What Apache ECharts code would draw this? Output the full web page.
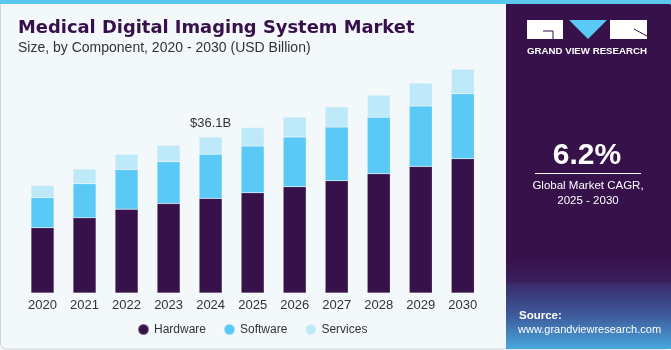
<!DOCTYPE html>
<html>
<head>
<meta charset="utf-8">
<script src="https://cdn.jsdelivr.net/npm/echarts@6/dist/echarts.min.js"></script>
<style>
html,body{margin:0;padding:0;background:#f3f8fb;}
#chart{width:671px;height:350px;}
</style>
</head>
<body>
<div id="chart"></div>
<script>
const years = ['2020','2021','2022','2023','2024','2025','2026','2027','2028','2029','2030'];
const hardware = [15.1, 17.4, 19.4, 20.7, 21.9, 23.2, 24.6, 26.0, 27.6, 29.3, 31.1];
const software = [7.0, 7.9, 9.2, 9.7, 10.2, 10.8, 11.5, 12.4, 13.1, 14.0, 15.0];
const services = [2.8, 3.4, 3.5, 3.8, 4.0, 4.3, 4.6, 4.7, 5.1, 5.3, 5.7];
const highlightIndex = 4;
const highlightLabel = '$36.1B';

const chart = echarts.init(document.getElementById('chart'));
const font = 'Liberation Sans, Arial, sans-serif';

function mkSeries(name, data, color, isTop) {
  return {
    name: name, type: 'bar', stack: 'total', data: data.map((v, i) => {
      if (isTop && i === highlightIndex) {
        return {value: v, label: {show: true, position: 'top', formatter: highlightLabel,
          color: '#333', fontSize: 13, fontFamily: font, distance: 7}};
      }
      return v;
    }),
    barWidth: 23,
    itemStyle: {color: color, borderColor: 'rgba(255,255,255,0.35)', borderWidth: 0.5},
    emphasis: {disabled: true}
  };
}

chart.setOption({
  animation: false,
  backgroundColor: '#f3f8fb',
  textStyle: {fontFamily: font},
  grid: {left: 21.5, right: 187.2, top: 33.8, bottom: 57, containLabel: false},
  xAxis: {
    type: 'category', data: years,
    axisLine: {show: false}, axisTick: {show: false},
    axisLabel: {color: '#333', fontSize: 13, margin: 6, fontFamily: font}
  },
  yAxis: {type: 'value', min: 0, max: 60, show: false, splitLine: {show: false}},
  legend: {
    data: ['Hardware', 'Software', 'Services'],
    left: 132, top: 318, icon: 'circle', itemWidth: 11, itemHeight: 11, itemGap: 17,
    textStyle: {color: '#333', fontSize: 12, fontFamily: font}
  },
  series: [
    mkSeries('Hardware', hardware, '#371149', false),
    mkSeries('Software', software, '#5bc9f5', false),
    mkSeries('Services', services, '#bde9f9', true)
  ],
  graphic: [
    {type: 'rect', shape: {x: 0, y: 0, width: 671, height: 4}, style: {fill: '#5bc8f0'}, z: 10},
    {type: 'rect', shape: {x: 0.5, y: 0.5, width: 669, height: 348.5, r: 6}, style: {fill: 'none', stroke: '#cfd4d8', lineWidth: 1}, z: 0},
    {type: 'text', left: 18, top: 19, style: {text: 'Medical Digital Imaging System Market', fill: '#37104a', font: 'bold 17.9px DejaVu Sans, sans-serif'}, z: 10},
    {type: 'text', left: 18, top: 41, style: {text: 'Size, by Component, 2020 - 2030 (USD Billion)', fill: '#333', font: '14px ' + font}, z: 10},
    // right panel
    {type: 'rect', shape: {x: 506, y: 0, width: 165, height: 349, r: [0, 6, 6, 0]}, style: {fill: '#37114a'}, z: 5},
    {type: 'rect', shape: {x: 506, y: 283, width: 165, height: 66},
      style: {fill: new echarts.graphic.LinearGradient(0, 0, 0, 1, [
        {offset: 0, color: '#3b2a6a'}, {offset: 0.5, color: '#3d5c9c'}, {offset: 1, color: '#4aa8de'}])}, z: 6},
    {type: 'rect', shape: {x: 506, y: 255, width: 165, height: 28},
      style: {fill: new echarts.graphic.LinearGradient(0, 0, 0, 1, [
        {offset: 0, color: '#37114a'}, {offset: 1, color: '#3a2060'}])}, z: 6},
    // logo
    {type: 'rect', shape: {x: 527, y: 20, width: 36, height: 19}, style: {fill: '#ffffff'}, z: 10},
    {type: 'polyline', shape: {points: [[543, 31], [553, 31], [553, 39]]}, style: {stroke: '#37114a', lineWidth: 1, fill: 'none'}, z: 11},
    {type: 'polygon', shape: {points: [[569, 20], [607, 20], [588, 39]]}, style: {fill: '#5bc9f5'}, z: 10},
    {type: 'rect', shape: {x: 610, y: 20, width: 37, height: 19}, style: {fill: '#ffffff'}, z: 10},
    {type: 'line', shape: {x1: 634, y1: 29, x2: 647, y2: 36}, style: {stroke: '#37114a', lineWidth: 1}, z: 11},
    {type: 'text', x: 587, y: 51, style: {text: 'GRAND VIEW RESEARCH', fill: '#ffffff', font: 'bold 9.7px ' + font, align: 'center', verticalAlign: 'middle'}, z: 10},
    {type: 'text', x: 587, y: 156, style: {text: '6.2%', fill: '#ffffff', font: 'bold 30px ' + font, align: 'center', verticalAlign: 'middle'}, z: 10},
    {type: 'line', shape: {x1: 535, y1: 173.5, x2: 641, y2: 173.5}, style: {stroke: '#ffffff', lineWidth: 1}, z: 10},
    {type: 'text', x: 588, y: 186, style: {text: 'Global Market CAGR,', fill: '#ffffff', font: '11.5px ' + font, align: 'center', verticalAlign: 'middle'}, z: 10},
    {type: 'text', x: 588, y: 201, style: {text: '2025 - 2030', fill: '#ffffff', font: '11.5px ' + font, align: 'center', verticalAlign: 'middle'}, z: 10},
    {type: 'text', x: 519, y: 316, style: {text: 'Source:', fill: '#ffffff', font: 'bold 11.5px ' + font, verticalAlign: 'middle'}, z: 10},
    {type: 'text', x: 518, y: 330, style: {text: 'www.grandviewresearch.com', fill: '#ffffff', font: '11px ' + font, verticalAlign: 'middle'}, z: 10}
  ]
});
</script>
</body>
</html>
